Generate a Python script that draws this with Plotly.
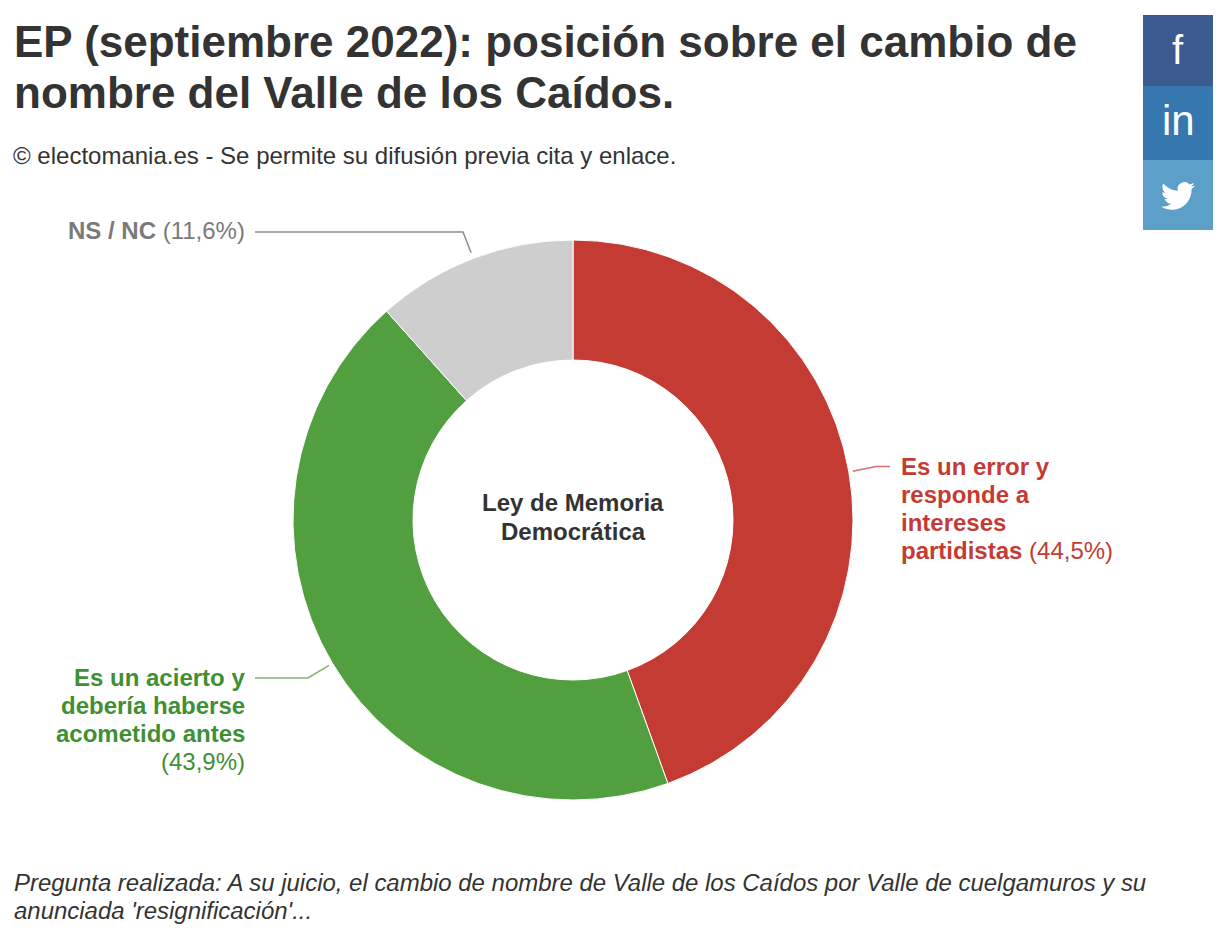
import base64
import math

import plotly.graph_objects as go

categories = ["Es un error y responde a intereses partidistas", "Es un acierto y debería haberse acometido antes", "NS / NC"]
values = [44.5, 43.9, 11.6]
slice_colors = ["#c43b33", "#529f3f", "#cecece"]

title_lines = ["EP (septiembre 2022): posición sobre el cambio de", "nombre del Valle de los Caídos."]
subtitle = "© electomania.es - Se permite su difusión previa cita y enlace."
center_lines = ["Ley de Memoria", "Democrática"]
note_lines = [
    "Pregunta realizada: A su juicio, el cambio de nombre de Valle de los Caídos por Valle de cuelgamuros y su",
    "anunciada 'resignificación'...",
]

W, H = 1224, 934
CX, CY, R = 573, 520, 280
FONT = "Liberation Sans"


def px(x):
    return x / W


def py(y):
    return 1 - y / H


def label(x, y, text, size, color, anchor="left"):
    return dict(x=px(x), y=py(y), xref="paper", yref="paper", text=text, showarrow=False,
                xanchor=anchor, yanchor="middle", align=anchor, borderpad=0,
                font=dict(family=FONT, size=size, color=color))


def slice_edge(index, radius):
    # punto medio de la porción, en sentido horario desde arriba
    mid = (sum(values[:index]) + values[index] / 2) / sum(values) * 2 * math.pi
    return CX + radius * math.sin(mid), CY - radius * math.cos(mid)


def leader(points, color):
    path = "M " + " L ".join(f"{px(x)},{py(y)}" for x, y in points)
    return dict(type="path", path=path, xref="paper", yref="paper", line=dict(color=color, width=1.5))


def block(y0, y1, color):
    return dict(type="rect", x0=px(1143), x1=px(1213), y0=py(y0), y1=py(y1), xref="paper", yref="paper",
                fillcolor=color, line=dict(width=0), layer="below")


bird = ("M23.953 4.57a10 10 0 01-2.825.775 4.958 4.958 0 002.163-2.723c-.951.555-2.005.959-3.127 1.184"
        "a4.92 4.92 0 00-8.384 4.482C7.69 8.095 4.067 6.13 1.64 3.162a4.822 4.822 0 00-.666 2.475"
        "c0 1.71.87 3.213 2.188 4.096a4.904 4.904 0 01-2.228-.616v.06a4.923 4.923 0 003.946 4.827"
        " 4.996 4.996 0 01-2.212.085 4.936 4.936 0 004.604 3.417 9.867 9.867 0 01-6.102 2.105"
        "c-.39 0-.779-.023-1.17-.067a13.995 13.995 0 007.557 2.209c9.053 0 13.998-7.496 13.998-13.985"
        " 0-.21 0-.42-.015-.63A9.935 9.935 0 0024 4.59z")
svg = f'<svg xmlns="http://www.w3.org/2000/svg" viewBox="0 0 24 24"><path fill="white" d="{bird}"/></svg>'
bird_src = "data:image/svg+xml;base64," + base64.b64encode(svg.encode()).decode()

fig = go.Figure(go.Pie(
    labels=categories, values=values, hole=160 / 280, sort=False, direction="clockwise", rotation=0,
    marker=dict(colors=slice_colors, line=dict(color="white", width=1)),
    textinfo="none", showlegend=False,
    domain=dict(x=[px(CX - R), px(CX + R)], y=[py(CY + R), py(CY - R)]),
))

annotations = [
    label(13, 41, f"<b>{title_lines[0]}</b>", 44, "#333333"),
    label(13, 93, f"<b>{title_lines[1]}</b>", 44, "#333333"),
    label(12, 155, subtitle, 24, "#333333"),
    label(246, 231, "<b>NS / NC</b> (11,6%)", 24, "#7a7a7a", "right"),
    label(900, 466, "<b>Es un error y</b>", 24, "#c43b33"),
    label(900, 494, "<b>responde a</b>", 24, "#c43b33"),
    label(900, 522, "<b>intereses</b>", 24, "#c43b33"),
    label(900, 550, "<b>partidistas</b> (44,5%)", 24, "#c43b33"),
    label(246, 677, "<b>Es un acierto y</b>", 24, "#3f8f35", "right"),
    label(246, 705, "<b>debería haberse</b>", 24, "#3f8f35", "right"),
    label(246, 733, "<b>acometido antes</b>", 24, "#3f8f35", "right"),
    label(246, 761, "(43,9%)", 24, "#3f8f35", "right"),
    label(573, 503, f"<b>{center_lines[0]}</b>", 24, "#333333", "center"),
    label(573, 531, f"<b>{center_lines[1]}</b>", 24, "#333333", "center"),
    label(13, 882, f"<i>{note_lines[0]}</i>", 23.96, "#333333"),
    label(13, 910, f"<i>{note_lines[1]}</i>", 23.96, "#333333"),
    label(1178, 50, "f", 40, "white", "center"),
    label(1178, 121, "in", 42, "white", "center"),
]

shapes = [
    block(15, 86, "#3b5a8f"),
    block(86, 160, "#3577ae"),
    block(160, 230, "#5ca0ca"),
    leader([slice_edge(0, 284), (876, 466.5), (890, 466.5)], "#d9716b"),
    leader([slice_edge(1, 284), (308, 678), (255, 678)], "#7fb573"),
    leader([slice_edge(2, 286), (463, 232), (255, 232)], "#8c8c8c"),
]

fig.update_layout(
    width=W, height=H, margin=dict(l=0, r=0, t=0, b=0),
    paper_bgcolor="white", plot_bgcolor="white",
    annotations=annotations, shapes=shapes,
    images=[dict(source=bird_src, xref="paper", yref="paper", x=px(1161), y=py(179), sizex=34 / W, sizey=34 / H,
                 xanchor="left", yanchor="top", sizing="contain", layer="above")],
)

fig.write_html("out.html", post_script="document.body.style.margin='0';", config={"displayModeBar": False})
